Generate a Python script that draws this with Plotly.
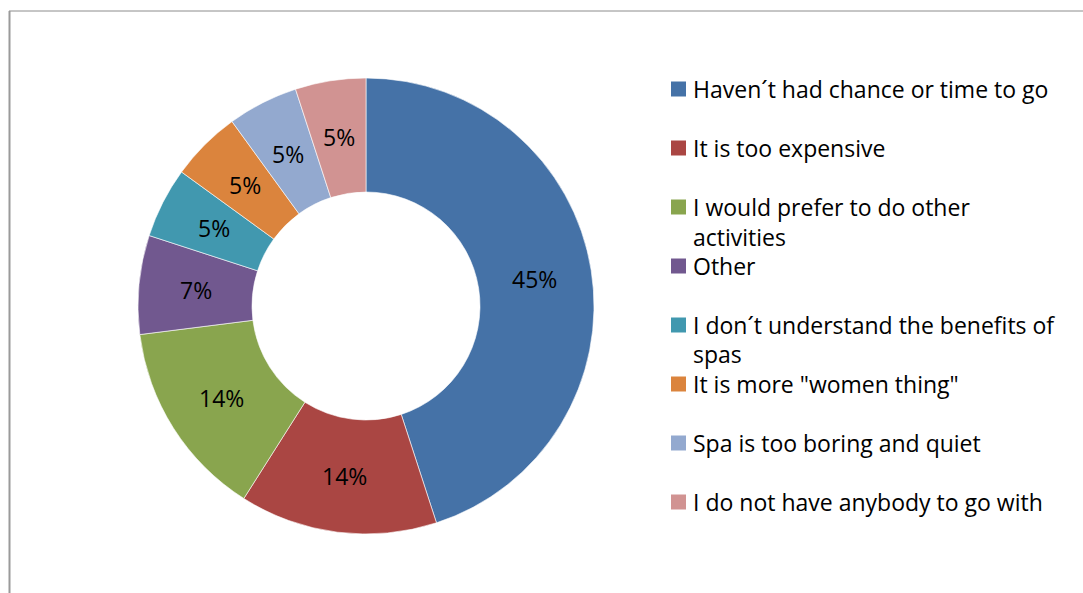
import math
import plotly.graph_objects as go

# Reasons for not visiting a spa (share of respondents, %)
labels = [
    "Haven´t had chance or time to go",
    "It is too expensive",
    "I would prefer to do other activities",
    "Other",
    "I don´t understand the benefits of spas",
    "It is more \"women thing\"",
    "Spa is too boring and quiet",
    "I do not have anybody to go with",
]
legend_lines = [
    ["Haven´t had chance or time to go"],
    ["It is too expensive"],
    ["I would prefer to do other", "activities"],
    ["Other"],
    ["I don´t understand the benefits of", "spas"],
    ["It is more \"women thing\""],
    ["Spa is too boring and quiet"],
    ["I do not have anybody to go with"],
]
values = [45, 14, 14, 7, 5, 5, 5, 5]
colors = ["#4572A7", "#AA4643", "#89A54E", "#71588F",
          "#4198AF", "#DB843D", "#93A9CF", "#D19392"]

W, H = 1083, 593
FONT = "'Open Sans', sans-serif"
FS = 23

def px(x):
    return x / W

def py(y):
    return 1 - y / H

cx, cy, r = 366, 306, 228
hole = 0.5

fig = go.Figure(go.Pie(
    labels=labels,
    values=values,
    hole=hole,
    sort=False,
    direction="clockwise",
    rotation=0,
    marker=dict(colors=colors, line=dict(color="#ffffff", width=0.6)),
    textinfo="none",
    hoverinfo="label+percent",
    showlegend=False,
    domain=dict(x=[px(cx - r), px(cx + r)], y=[py(cy + r), py(cy - r)]),
))

shapes = []
annotations = []

# Percentage labels, centred in the ring at each slice's mid-angle
total = sum(values)
ring_mid = r * (1 + hole) / 2
cum = 0
for v in values:
    theta = 2 * math.pi * (cum + v / 2) / total
    cum += v
    lx = cx + ring_mid * math.sin(theta)
    ly = cy - ring_mid * math.cos(theta)
    annotations.append(dict(
        text=f"{round(100 * v / total)}%", xref="paper", yref="paper",
        x=px(lx), y=py(ly), xanchor="center", yanchor="middle",
        showarrow=False,
        font=dict(family=FONT, size=FS, color="#000000"),
    ))

# Legend drawn as swatches and text rows
row_y = [89, 148, 207, 266, 325, 384, 443, 502]
line_h = 29.5
for i, lines in enumerate(legend_lines):
    y0 = row_y[i]
    shapes.append(dict(
        type="rect", xref="paper", yref="paper",
        x0=px(671), x1=px(686), y0=py(y0 + 7.5), y1=py(y0 - 7.5),
        fillcolor=colors[i], line=dict(width=0),
    ))
    for j, t in enumerate(lines):
        annotations.append(dict(
            text=t, xref="paper", yref="paper",
            x=px(691), y=py(y0 + j * line_h),
            xanchor="left", yanchor="middle", showarrow=False,
            font=dict(family=FONT, size=FS, color="#000000"),
        ))

# Chart area border (top and left edges visible)
shapes.append(dict(type="line", xref="paper", yref="paper",
                   x0=px(9), x1=px(1083), y0=py(11), y1=py(11),
                   line=dict(color="#8c8c8c", width=1)))
shapes.append(dict(type="line", xref="paper", yref="paper",
                   x0=px(9.5), x1=px(9.5), y0=py(11), y1=py(593),
                   line=dict(color="#9a9a9a", width=2)))

fig.update_layout(
    width=W, height=H,
    margin=dict(l=0, r=0, t=0, b=0),
    paper_bgcolor="#ffffff",
    plot_bgcolor="#ffffff",
    shapes=shapes,
    annotations=annotations,
)

fig.write_html("out.html")
